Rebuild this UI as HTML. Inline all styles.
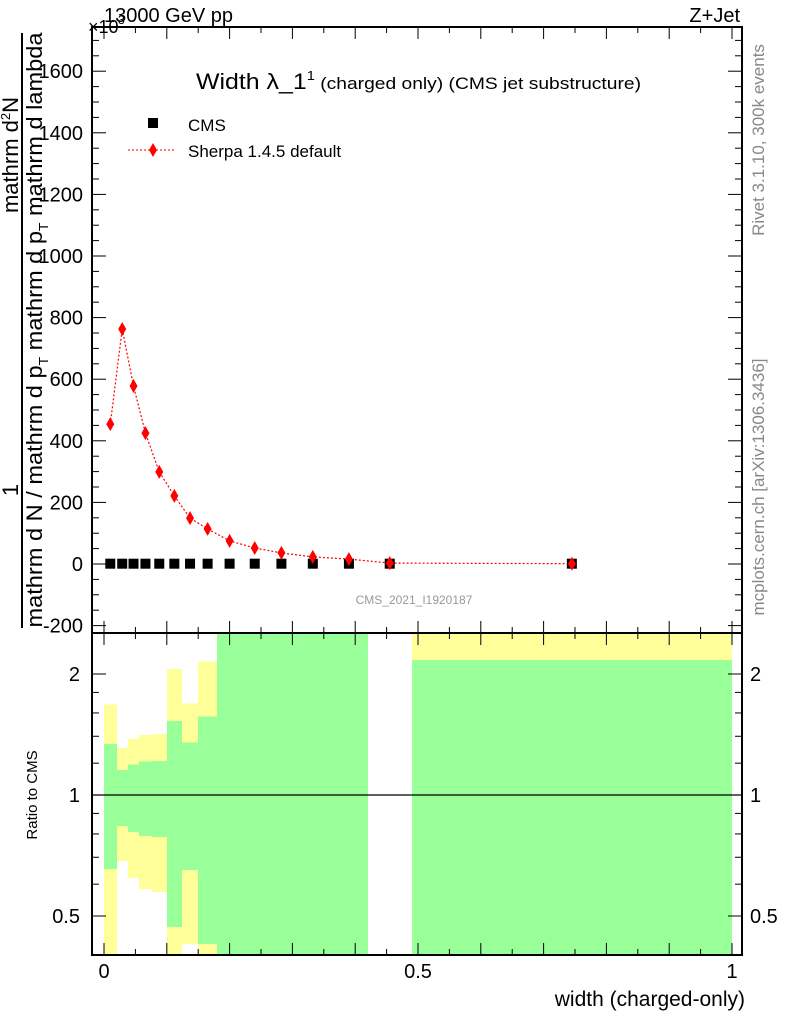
<!DOCTYPE html>
<html><head><meta charset="utf-8"><style>
body{margin:0;background:#fff}
svg{display:block;font-family:"Liberation Sans",sans-serif}
</style></head><body>
<svg id="c" width="786" height="1024" viewBox="0 0 786 1024">
<g id="bands" shape-rendering="crispEdges"></g>
<g id="axes"></g>
<g id="series"></g>
<text x="104" y="22" font-size="20">13000 GeV pp</text>
<text x="88" y="33" font-size="18">×10</text>
<text x="118" y="24" font-size="12">3</text>
<text x="740" y="22" font-size="20" text-anchor="end">Z+Jet</text>
<text x="196" y="89" font-size="22" textLength="445" lengthAdjust="spacingAndGlyphs">Width λ_1<tspan font-size="13" dy="-9">1</tspan><tspan font-size="17" dy="9"> (charged only) (CMS jet substructure)</tspan></text>
<rect x="148" y="118" width="10" height="10" fill="#000"/>
<text x="188" y="131" font-size="17">CMS</text>
<line x1="128" y1="150" x2="176" y2="150" stroke="red" stroke-dasharray="2,2"/>
<polygon points="153,143 157,150 153,157 149,150" fill="red"/>
<text x="188" y="157" font-size="17">Sherpa 1.4.5 default</text>
<text x="414" y="604" font-size="12" fill="#999" text-anchor="middle">CMS_2021_I1920187</text>
<text transform="translate(764,140) rotate(-90)" font-size="17" fill="#888" text-anchor="middle">Rivet 3.1.10,  300k events</text>
<text transform="translate(764,487) rotate(-90)" font-size="17" fill="#888" text-anchor="middle">mcplots.cern.ch [arXiv:1306.3436]</text>
<line x1="22" y1="33" x2="22" y2="628" stroke="#000" stroke-width="2"/>
<text transform="translate(18,155) rotate(-90)" font-size="22" text-anchor="middle">mathrm d<tspan font-size="13" dy="-8">2</tspan><tspan dy="8">N</tspan></text>
<text transform="translate(18,490) rotate(-90)" font-size="22" text-anchor="middle">1</text>
<text transform="translate(42,330) rotate(-90)" font-size="22" text-anchor="middle" textLength="595" lengthAdjust="spacingAndGlyphs">mathrm d N / mathrm d p<tspan font-size="13" dy="6">T</tspan><tspan dy="-6"> mathrm d p</tspan><tspan font-size="13" dy="6">T</tspan><tspan dy="-6"> mathrm d lambda</tspan></text>
<text transform="translate(37,795) rotate(-90)" font-size="15" text-anchor="middle">Ratio to CMS</text>
<text x="745" y="1006" font-size="21" text-anchor="end">width (charged-only)</text>
</svg>
<script>
const edges=[0,0.02,0.038,0.056,0.076,0.1,0.124,0.15,0.18,0.22,0.26,0.305,0.36,0.42,0.49,1.0];
const cmsVals=[1,1,1,1,1,1,1,1,1,1,1,1,1,1,1];
const sherpaVals=[454,763,578,425,299,221,149,114,75,52,36,23,16,3,1];
const yellowHi=[1.68,1.31,1.38,1.41,1.42,2.06,1.69,2.15,3,3,3,3,3,null,3];
const greenHi=[1.34,1.154,1.19,1.21,1.215,1.53,1.35,1.57,3,3,3,3,3,null,2.17];
const greenLo=[0.654,0.837,0.809,0.79,0.786,0.47,0.65,0.426,0.3,0.3,0.3,0.3,0.3,null,0.3];
const yellowLo=[0.3,0.685,0.622,0.583,0.573,0.3,0.426,0.3,0.3,0.3,0.3,0.3,0.3,null,0.3];
const yTicks=[-200,0,200,400,600,800,1000,1200,1400,1600];
const rTicks=[0.5,1,2];
const xTicks=[0,0.5,1];
const NS="http://www.w3.org/2000/svg";
const L=92,R=742,T=27,M=633,B=955;
const X=v=>104+628*v;
const Y=v=>564-0.308*v;
const RY=r=>{let y=795-121*Math.log2(r);return Math.max(M,Math.min(B,y));};
function mk(p,tag,at){const e=document.createElementNS(NS,tag);for(const k in at)e.setAttribute(k,at[k]);p.appendChild(e);return e;}
const bands=document.getElementById('bands'),axes=document.getElementById('axes'),ser=document.getElementById('series');
for(let i=0;i<edges.length-1;i++){
 if(yellowHi[i]===null)continue;
 const x0=Math.round(X(edges[i])),w=Math.round(X(edges[i+1]))-x0;
 let e=mk(bands,'rect',{x:x0,y:RY(yellowHi[i]),width:w,height:RY(yellowLo[i])-RY(yellowHi[i]),fill:'#ffff99'});
 
 
 e=mk(bands,'rect',{x:x0,y:RY(greenHi[i]),width:w,height:RY(greenLo[i])-RY(greenHi[i]),fill:'#99ff99'});
 
 
}
mk(axes,'line',{x1:L,y1:RY(1),x2:R,y2:RY(1),stroke:'#000','stroke-width':1.2});
mk(axes,'rect',{x:L,y:T,width:R-L,height:M-T,fill:'none',stroke:'#000','stroke-width':2});
mk(axes,'rect',{x:L,y:M,width:R-L,height:B-M,fill:'none',stroke:'#000','stroke-width':2});
for(let v=-200;v<=1700;v+=50){const y=Y(v);if(y<T||y>M)continue;const len=v%200===0?14:7;
 mk(axes,'line',{x1:L,y1:y,x2:L+len,y2:y,stroke:'#000'});mk(axes,'line',{x1:R,y1:y,x2:R-len,y2:y,stroke:'#000'});}
yTicks.forEach(v=>{const t=mk(axes,'text',{x:83,y:Y(v)+7,'font-size':20,'text-anchor':'end'});t.textContent=v;
 
 });
[0.4,0.5,0.6,0.7,0.8,0.9,1,1.2,1.4,1.6,1.8,2].forEach(r=>{const y=RY(r);const len=(r===0.5||r===1||r===2)?14:7;
 mk(axes,'line',{x1:L,y1:y,x2:L+len,y2:y,stroke:'#000'});mk(axes,'line',{x1:R,y1:y,x2:R-len,y2:y,stroke:'#000'});});
rTicks.forEach(r=>{let t=mk(axes,'text',{x:80,y:RY(r)+7,'font-size':20,'text-anchor':'end'});t.textContent=r;
 
 
 t=mk(axes,'text',{x:750,y:RY(r)+7,'font-size':20});t.textContent=r;
 
 });
for(let k=0;k<=20;k++){const v=k*0.05,x=X(v);if(x>R)continue;const len=k%2===0?12:6;
 mk(axes,'line',{x1:x,y1:T,x2:x,y2:T+len,stroke:'#000'});mk(axes,'line',{x1:x,y1:M,x2:x,y2:M-len,stroke:'#000'});
 mk(axes,'line',{x1:x,y1:M,x2:x,y2:M+len,stroke:'#000'});mk(axes,'line',{x1:x,y1:B,x2:x,y2:B-len,stroke:'#000'});}
xTicks.forEach(v=>{const t=mk(axes,'text',{x:X(v),y:978,'font-size':20,'text-anchor':'middle'});t.textContent=v;
 
 });
const cx=edges.slice(0,-1).map((e,i)=>(e+edges[i+1])/2);
const pl=mk(ser,'polyline',{points:cx.map((c,i)=>X(c)+','+Y(sherpaVals[i])).join(' '),fill:'none',stroke:'red','stroke-dasharray':'2,2','stroke-width':1.2});


cx.forEach((c,i)=>{const x=X(c),y=Y(cmsVals[i]);
 const r=mk(ser,'rect',{x:x-5,y:y-5,width:10,height:10,fill:'#000'});
 
 });
cx.forEach((c,i)=>{const x=X(c),y=Y(sherpaVals[i]);
 const p=mk(ser,'polygon',{points:`${x},${y-7} ${x+4},${y} ${x},${y+7} ${x-4},${y}`,fill:'red'});
 
 });
</script>
</body></html>
